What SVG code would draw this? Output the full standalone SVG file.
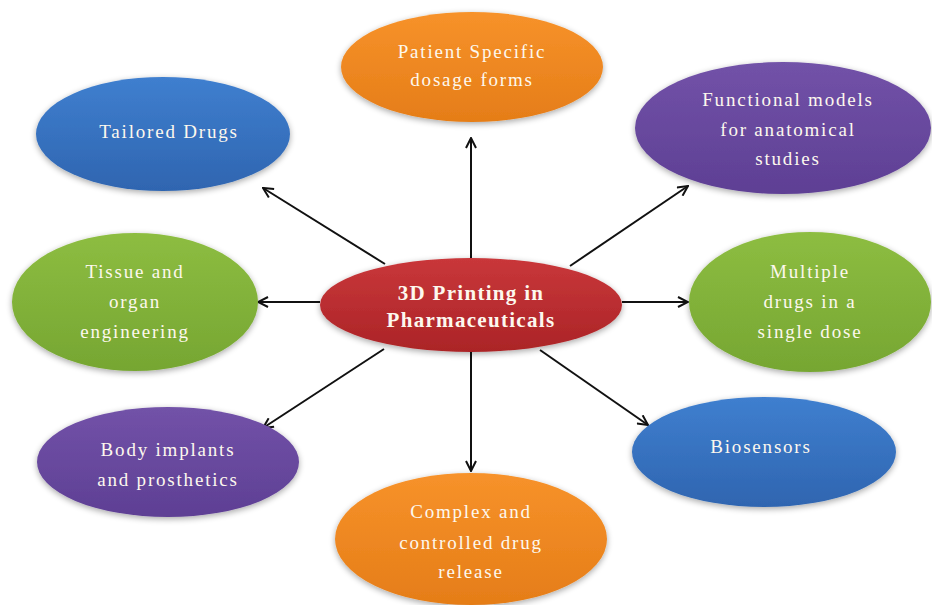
<svg xmlns="http://www.w3.org/2000/svg" width="932" height="605" viewBox="0 0 932 605">
<defs>
<linearGradient id="gBlue" x1="0" y1="0" x2="0" y2="1"><stop offset="0" stop-color="#3f7fcf"/><stop offset="1" stop-color="#2f65b0"/></linearGradient>
<linearGradient id="gOrange" x1="0" y1="0" x2="0" y2="1"><stop offset="0" stop-color="#f7922a"/><stop offset="1" stop-color="#e57d18"/></linearGradient>
<linearGradient id="gPurple" x1="0" y1="0" x2="0" y2="1"><stop offset="0" stop-color="#7252a8"/><stop offset="1" stop-color="#5e3f94"/></linearGradient>
<linearGradient id="gGreen" x1="0" y1="0" x2="0" y2="1"><stop offset="0" stop-color="#8dbd41"/><stop offset="1" stop-color="#76a632"/></linearGradient>
<linearGradient id="gRed" x1="0" y1="0" x2="0" y2="1"><stop offset="0" stop-color="#c9373a"/><stop offset="1" stop-color="#ab2427"/></linearGradient>
<filter id="sh" x="-10%" y="-10%" width="120%" height="125%"><feGaussianBlur in="SourceAlpha" stdDeviation="3"/><feOffset dy="2"/><feComponentTransfer><feFuncA type="linear" slope="0.35"/></feComponentTransfer><feMerge><feMergeNode/><feMergeNode in="SourceGraphic"/></feMerge></filter>
<marker id="arr" viewBox="0 0 12 12" refX="11" refY="6" markerWidth="12" markerHeight="12" markerUnits="userSpaceOnUse" orient="auto"><polyline points="1,1 11,6 1,11" fill="none" stroke="#111" stroke-width="2"/></marker>
</defs>
<style>
.lbl{font-family:"Liberation Serif","Times New Roman",serif;font-size:19px;fill:#fdf8ee;text-anchor:middle;letter-spacing:1.8px}
.ctr{font-family:"Liberation Serif","Times New Roman",serif;font-size:21px;font-weight:bold;fill:#fdf8ee;text-anchor:middle;letter-spacing:1.3px}
.conn line{stroke:#111;stroke-width:2;marker-end:url(#arr)}
</style>
<rect width="932" height="605" fill="#fff"/>
<g class="conn" id="connectors">
<line x1="471" y1="258" x2="471" y2="138"/>
<line x1="385" y1="264" x2="263" y2="188"/>
<line x1="570" y1="266" x2="688" y2="186"/>
<line x1="320" y1="302" x2="258" y2="302"/>
<line x1="622" y1="302" x2="688" y2="302"/>
<line x1="384" y1="349" x2="263" y2="428"/>
<line x1="471" y1="352" x2="471" y2="471"/>
<line x1="540" y1="350" x2="648" y2="425"/>
</g>
<g id="patient"><ellipse cx="472" cy="67" rx="131" ry="55" fill="url(#gOrange)" filter="url(#sh)"/><text class="lbl" x="472" y="58">Patient Specific</text><text class="lbl" x="472" y="86">dosage forms</text></g>
<g id="tailored"><ellipse cx="163" cy="134" rx="127" ry="57" fill="url(#gBlue)" filter="url(#sh)"/><text class="lbl" x="169" y="138">Tailored Drugs</text></g>
<g id="functional"><ellipse cx="783" cy="128" rx="148" ry="66" fill="url(#gPurple)" filter="url(#sh)"/><text class="lbl" x="788" y="106">Functional models</text><text class="lbl" x="788" y="136">for anatomical</text><text class="lbl" x="788" y="165">studies</text></g>
<g id="tissue"><ellipse cx="135" cy="302" rx="123" ry="69" fill="url(#gGreen)" filter="url(#sh)"/><text class="lbl" x="135" y="278">Tissue and</text><text class="lbl" x="135" y="308">organ</text><text class="lbl" x="135" y="338">engineering</text></g>
<g id="center"><ellipse cx="471" cy="305" rx="151" ry="47" fill="url(#gRed)" filter="url(#sh)"/><text class="ctr" x="471" y="300">3D Printing in</text><text class="ctr" x="471" y="327">Pharmaceuticals</text></g>
<g id="multiple"><ellipse cx="810" cy="302" rx="121" ry="70" fill="url(#gGreen)" filter="url(#sh)"/><text class="lbl" x="810" y="278">Multiple</text><text class="lbl" x="810" y="308">drugs in a</text><text class="lbl" x="810" y="338">single dose</text></g>
<g id="body"><ellipse cx="168" cy="462" rx="131" ry="55" fill="url(#gPurple)" filter="url(#sh)"/><text class="lbl" x="168" y="456">Body implants</text><text class="lbl" x="168" y="486">and prosthetics</text></g>
<g id="biosensors"><ellipse cx="764" cy="452" rx="132" ry="55" fill="url(#gBlue)" filter="url(#sh)"/><text class="lbl" x="761" y="453">Biosensors</text></g>
<g id="complex"><ellipse cx="471" cy="539" rx="136" ry="66" fill="url(#gOrange)" filter="url(#sh)"/><text class="lbl" x="471" y="518">Complex and</text><text class="lbl" x="471" y="549">controlled drug</text><text class="lbl" x="471" y="578">release</text></g>
</svg>
